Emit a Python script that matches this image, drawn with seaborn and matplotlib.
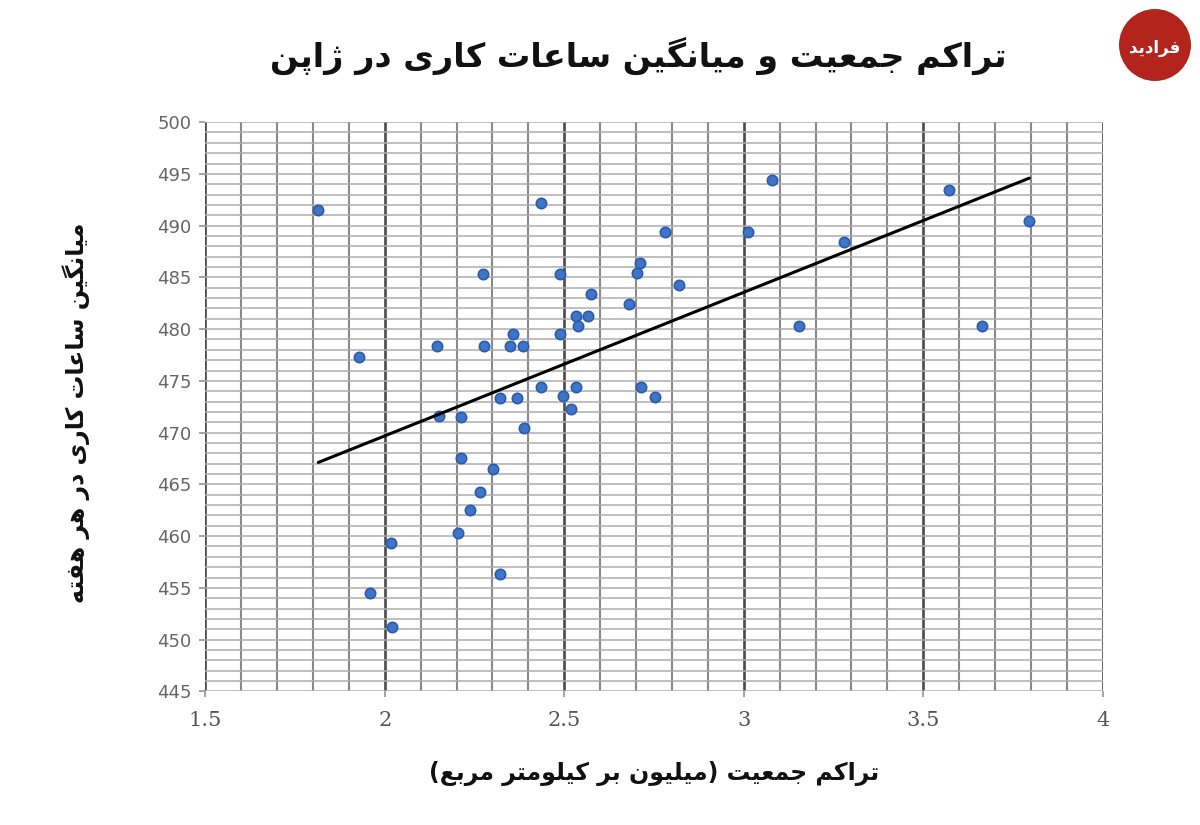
import matplotlib
matplotlib.use("Agg")
import matplotlib.pyplot as plt
from matplotlib.ticker import MultipleLocator
from matplotlib.patches import Circle
import pandas as pd
import seaborn as sns

# === Datos ===
densidad = [1.815, 2.436, 1.929, 2.146, 2.152, 2.213, 2.213, 2.274, 2.277, 2.266,
            2.238, 2.205, 2.302, 2.018, 1.960, 2.021, 2.322, 2.322, 2.358, 2.350,
            2.386, 2.369, 2.436, 2.389, 2.489, 2.489, 2.497, 2.519, 2.533, 2.539,
            2.567, 2.575, 2.533, 2.681, 2.703, 2.712, 2.781, 2.820, 2.715, 2.753,
            3.013, 3.079, 3.155, 3.280, 3.572, 3.664, 3.795]
horas = [491.5, 492.2, 477.3, 478.4, 471.6, 471.5, 467.5, 485.3, 478.4, 464.3,
         462.5, 460.3, 466.5, 459.3, 454.5, 451.2, 456.3, 473.3, 479.5, 478.4,
         478.4, 473.3, 474.4, 470.4, 485.3, 479.5, 473.5, 472.3, 481.3, 480.3,
         481.3, 483.4, 474.4, 482.4, 485.4, 486.4, 489.4, 484.3, 474.4, 473.4,
         489.4, 494.4, 480.3, 488.4, 493.4, 480.3, 490.4]

ticks_x = [1.5, 2, 2.5, 3, 3.5, 4]
etiquetas_x = ["1.5", "2", "2.5", "3", "3.5", "4"]
ticks_y = list(range(445, 501, 5))

titulo = "تراکم جمعیت و میانگین ساعات کاری در ژاپن"
etiqueta_x = "تراکم جمعیت (میلیون بر کیلومتر مربع)"
etiqueta_y = "میانگین ساعات کاری در هر هفته"
logo = "فرادید"

# === Formas contextuales del persa (matplotlib no hace shaping) ===
DUAL = {
    'ب': '\uFE8F\uFE90\uFE91\uFE92', 'پ': '\uFB56\uFB57\uFB58\uFB59',
    'ت': '\uFE95\uFE96\uFE97\uFE98', 'ج': '\uFE9D\uFE9E\uFE9F\uFEA0',
    'س': '\uFEB1\uFEB2\uFEB3\uFEB4', 'ع': '\uFEC9\uFECA\uFECB\uFECC',
    'ف': '\uFED1\uFED2\uFED3\uFED4', 'ک': '\uFB8E\uFB8F\uFB90\uFB91',
    'گ': '\uFB92\uFB93\uFB94\uFB95', 'ل': '\uFEDD\uFEDE\uFEDF\uFEE0',
    'م': '\uFEE1\uFEE2\uFEE3\uFEE4', 'ن': '\uFEE5\uFEE6\uFEE7\uFEE8',
    'ه': '\uFEE9\uFEEA\uFEEB\uFEEC', 'ی': '\uFBFC\uFBFD\uFBFE\uFBFF',
}
DERECHA = {
    'ا': '\uFE8D\uFE8E', 'د': '\uFEA9\uFEAA', 'ر': '\uFEAD\uFEAE',
    'ژ': '\uFB8A\uFB8B', 'و': '\uFEED\uFEEE',
}


def fa(texto):
    salida = []
    for i, c in enumerate(texto):
        prev = texto[i - 1] if i > 0 else ''
        sig = texto[i + 1] if i + 1 < len(texto) else ''
        p = prev in DUAL
        if c in DUAL:
            n = sig in DUAL or sig in DERECHA
            salida.append(DUAL[c][3 if (p and n) else 1 if p else 2 if n else 0])
        elif c in DERECHA:
            salida.append(DERECHA[c][1 if p else 0])
        else:
            salida.append(c)
    return ''.join(reversed(salida)).translate(str.maketrans('()', ')('))


df = pd.DataFrame({"x": densidad, "y": horas})

sns.set_theme(style="white")
plt.rcParams['font.family'] = ['DejaVu Sans']

fig = plt.figure(figsize=(12, 8.25), dpi=100)
ax = fig.add_axes([0.171, 0.162, 0.748, 0.690])

sns.scatterplot(data=df, x="x", y="y", ax=ax, s=55, color="#3f74c6",
                edgecolor="#2a5cab", linewidth=1.2, zorder=3)
sns.regplot(data=df, x="x", y="y", ax=ax, scatter=False, ci=None,
            line_kws={"color": "black", "linewidth": 2.2, "zorder": 4})

ax.set_xlim(1.5, 4)
ax.set_ylim(445, 500)
ax.set_xticks(ticks_x, etiquetas_x, family="DejaVu Serif")
ax.set_yticks(ticks_y)
ax.xaxis.set_minor_locator(MultipleLocator(0.1))
ax.yaxis.set_minor_locator(MultipleLocator(1))

ax.grid(which="minor", axis="y", color="#adadad", linewidth=1.1)
ax.grid(which="major", axis="y", color="#adadad", linewidth=1.1)
ax.grid(which="minor", axis="x", color="#8a8a8a", linewidth=1.5)
ax.grid(which="major", axis="x", color="#4a4a4a", linewidth=1.9)
ax.set_axisbelow(True)
for sp in ax.spines.values():
    sp.set_visible(False)

ax.tick_params(axis="y", which="major", length=4, color="#999999",
               labelsize=13, labelcolor="#666666", pad=6, left=True)
ax.tick_params(axis="x", which="major", length=4, color="#999999",
               labelsize=15, labelcolor="#555555", pad=10, bottom=True)
ax.tick_params(which="minor", length=0)

ax.set_xlabel("")
ax.set_ylabel("")
fig.text(0.545, 0.062, fa(etiqueta_x), ha="center", va="center",
         fontsize=17, fontweight="bold", color="#111111")
fig.text(0.063, 0.50, fa(etiqueta_y), ha="center", va="center",
         rotation=90, fontsize=17, fontweight="bold", color="#111111")
fig.text(0.532, 0.932, fa(titulo), ha="center", va="center",
         fontsize=24, fontweight="bold", color="#111111")

# Logo
circ = Circle((11.55, 8.25 - 0.45), 0.36, transform=fig.dpi_scale_trans,
              facecolor="#b3241d", edgecolor="none")
fig.patches.append(circ)
fig.text(0.9625, 0.942, fa(logo), ha="center", va="center", fontsize=12,
         fontweight="bold", color="white")

plt.savefig("out.png", dpi=100)
